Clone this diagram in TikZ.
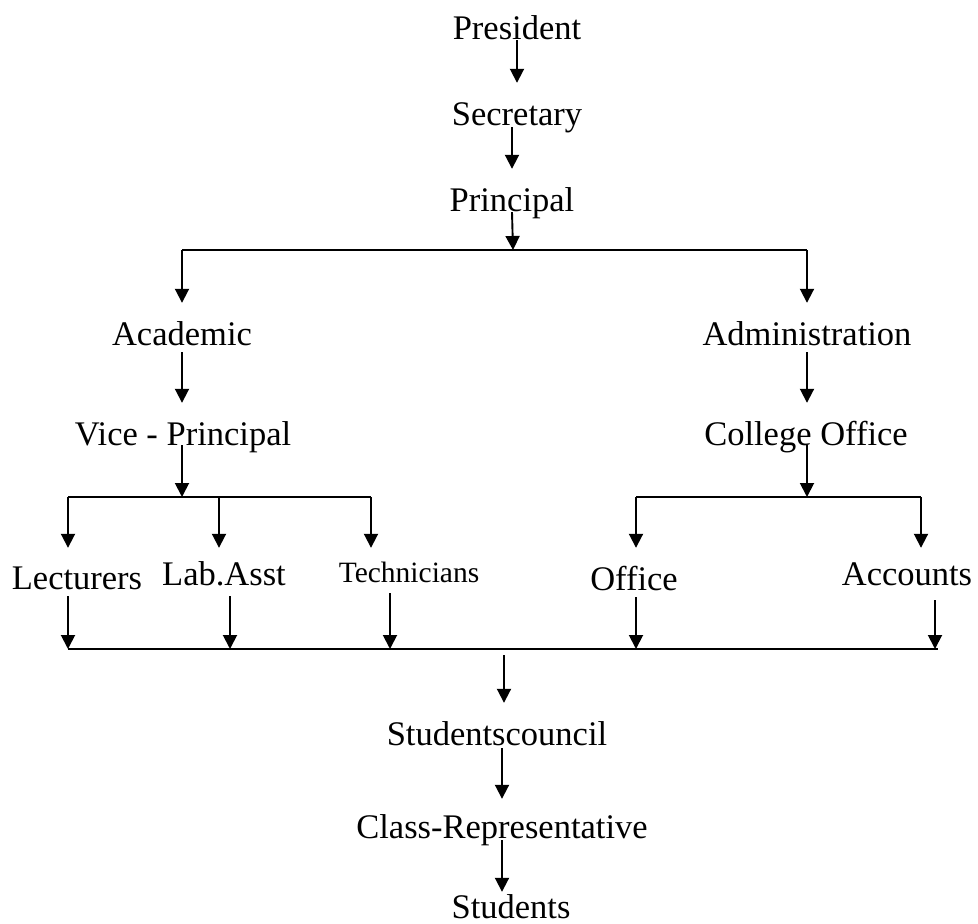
\documentclass[tikz,border=0pt]{standalone}
\usepackage{fontspec}
\setmainfont{Liberation Serif}
\usepackage{tikz}
\usetikzlibrary{arrows.meta}
\tikzset{
  lbl/.style={anchor=base,inner sep=0pt,text height=42pt,text depth=2pt,font=\fontsize{34.5pt}{40pt}\selectfont},
  smalllbl/.style={lbl,font=\fontsize{29.5pt}{34pt}\selectfont},
  arr/.style={-{Triangle[length=14pt,width=14pt]},line width=1.9pt},
  bar/.style={line width=1.9pt}
}
\begin{document}
\begin{tikzpicture}[x=1pt,y=-1pt]
\useasboundingbox (0,0) rectangle (978,924);
% top of the chart
\node[lbl,text depth=1pt] (pres) at (517,39) {President};
\node[lbl] (sec) at (517,125) {Secretary};
\node[lbl,text depth=1pt] (prin) at (512,211) {Principal};
\node[lbl,text depth=7pt] (acad) at (182,345) {Academic};
\node[lbl,text depth=7pt] (admin) at (807,345) {Administration};
\node[lbl,text depth=0pt] (vp) at (183,445) {Vice - Principal};
\node[lbl,text depth=0pt] (coff) at (806,445) {College Office};
% staff row
\node[lbl,text height=41pt,text depth=7pt] (lect) at (77,589) {Lecturers};
\node[lbl,text height=37pt,text depth=11pt] (lab) at (224,585) {Lab.Asst};
\node[smalllbl,text height=34pt,text depth=11pt] (tech) at (409,582) {Technicians};
\node[lbl,text depth=7pt] (off) at (634,590) {Office};
\node[lbl,text height=37pt,text depth=15pt] (acc) at (907,585) {Accounts};
% bottom of the chart
\node[lbl,text depth=3pt] (sc) at (497,745) {Studentscouncil};
\node[lbl,text height=39pt] (cr) at (502,838) {Class-Representative};
\node[lbl,text height=26pt] (stu) at (511,918) {Students};
% junctions
\coordinate (pj) at (513,250);
\coordinate (vj) at (182,497);
\coordinate (v1) at (68,497);
\coordinate (v2) at (219,497);
\coordinate (v3) at (371,497);
\coordinate (cj) at (807,497);
\coordinate (c1) at (636,497);
\coordinate (c2) at (921,497);
\coordinate (b1) at (68,649);
\coordinate (b2) at (230,649);
\coordinate (b3) at (390,649);
\coordinate (b4) at (636,649);
\coordinate (b5) at (935,649);
\coordinate (be) at (938,649);
\coordinate (bj) at (504,655);
\draw[arr] (pres.south) -- (sec.north -| pres.south);
\draw[arr] (sec.south -| prin) -- (prin.north);
\draw[arr] (prin.south) -- (pj);
\draw[bar] (acad |- pj) -- (admin |- pj);
\draw[arr] (acad |- pj) -- (acad.north);
\draw[arr] (admin |- pj) -- (admin.north);
\draw[arr] (acad.south) -- (vp.north -| acad.south);
\draw[arr] (admin.south) -- (coff.north -| admin.south);
\draw[arr] (vp.south -| vj) -- (vj);
\draw[arr] (coff.south -| cj) -- (cj);
\draw[bar] (v1) -- (v3);
\draw[bar] (c1) -- (c2);
\draw[arr] (v1) -- (v1 |- lect.north);
\draw[arr] (v2) -- (v2 |- lab.north);
\draw[arr] (v3) -- (v3 |- tech.north);
\draw[arr] (c1) -- (c1 |- off.north);
\draw[arr] (c2) -- (c2 |- acc.north);
\draw[arr] (lect.south -| b1) -- (b1);
\draw[arr] (lab.south -| b2) -- (b2);
\draw[arr] (tech.south -| b3) -- (b3);
\draw[arr] (off.south -| b4) -- (b4);
\draw[arr] (acc.south -| b5) -- (b5);
\draw[bar] (b1) -- (be);
\draw[arr] (bj) -- (bj |- sc.north);
\draw[arr] (sc.south -| cr) -- (cr.north);
\draw[arr] (cr.south) -- (stu.north -| cr.south);
\end{tikzpicture}
\end{document}
